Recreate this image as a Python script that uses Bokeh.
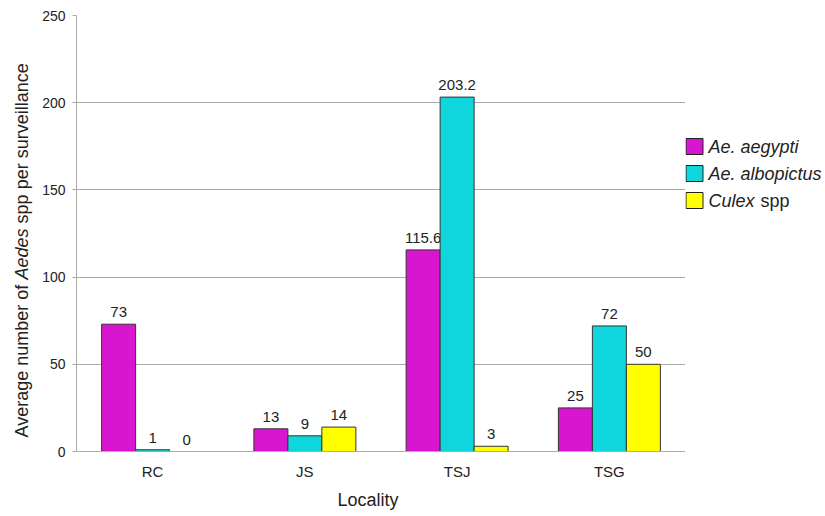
import math
from bokeh.plotting import figure
from bokeh.models import ColumnDataSource, FactorRange, Range1d, Title
from bokeh.transform import dodge
from bokeh.layouts import row
from bokeh.embed import file_html
from bokeh.resources import INLINE
from bokeh.core.properties import value

# ---- data ----
localities = ["RC", "JS", "TSJ", "TSG"]
aegypti = [73, 13, 115.6, 25]
albopictus = [1, 9, 203.2, 72]
culex = [0, 14, 3, 50]
y_ticks = [0, 50, 100, 150, 200, 250]
series_keys = ["aegypti", "albopictus", "culex"]
legend_italic = ["Ae. aegypti", "Ae. albopictus", "Culex"]
legend_plain = ["", "", "spp"]
colors = ["#D916CF", "#0FD6DC", "#FFFF00"]

FONT = "Liberation Sans"
TXT = "#222222"
H = 516
TOP = 15        # frame top (page px)
BOT = 451       # frame bottom (page px)
FH = BOT - TOP  # frame height


def fmt(v):
    return f"{v:g}"


def side_panel(w):
    f = figure(width=w, height=H, x_range=Range1d(0, w), y_range=Range1d(0, FH),
               output_backend="svg", toolbar_location=None,
               min_border_left=0, min_border_right=0,
               min_border_top=TOP, min_border_bottom=H - BOT,
               x_axis_location=None, y_axis_location=None)
    f.outline_line_color = None
    f.xgrid.grid_line_color = None
    f.ygrid.grid_line_color = None
    return f


src = ColumnDataSource(dict(
    loc=localities,
    aegypti=aegypti, albopictus=albopictus, culex=culex,
    aegypti_l=[fmt(v) for v in aegypti],
    albopictus_l=[fmt(v) for v in albopictus],
    culex_l=[fmt(v) for v in culex],
))

# ---- left panel: y-axis title with italic "Aedes" ----
yt = side_panel(36)
fs = 18
w1 = 8.782 * fs          # "Average number of "
w2 = 2.835 * fs          # "Aedes"
sp = 0.278 * fs          # space
y_start = BOT - 437
tx = 21
yt.text(x=[tx, tx], y=[y_start, y_start + w1 + w2 + sp],
        text=["Average number of", "spp per surveillance"], angle=math.pi / 2,
        text_align="left", text_baseline="alphabetic", text_font=value(FONT),
        text_font_size="18px", text_color=TXT)
yt.text(x=[tx], y=[y_start + w1], text=["Aedes"], angle=math.pi / 2,
        text_align="left", text_baseline="alphabetic", text_font=value(FONT),
        text_font_size="18px", text_font_style="italic", text_color=TXT)

# ---- main chart ----
p = figure(width=649, height=H, x_range=FactorRange(*localities),
           y_range=Range1d(0, 250), output_backend="svg", toolbar_location=None,
           min_border_left=40, min_border_right=0, min_border_top=TOP,
           min_border_bottom=H - BOT)
p.outline_line_color = None

bw = 0.2233
offsets = [-bw, 0.0, bw]
for key, off, col in zip(series_keys, offsets, colors):
    p.vbar(x=dodge("loc", off, range=p.x_range), top=key, width=bw, bottom=0,
           source=src, fill_color=col, line_color="#333333", line_width=1)
    p.text(x=dodge("loc", off, range=p.x_range), y=key, text=key + "_l",
           source=src, text_align="center", text_baseline="alphabetic",
           y_offset=-12, text_font=value(FONT), text_font_size="15px",
           text_color=TXT)

p.xgrid.grid_line_color = None
p.ygrid.grid_line_color = "#ABABAB"
p.ygrid.grid_line_width = 1
p.yaxis.ticker = y_ticks
p.ygrid.ticker = y_ticks
p.yaxis.major_tick_in = 0
p.yaxis.major_tick_out = 4
p.yaxis.minor_tick_line_color = None
p.yaxis.major_tick_line_color = "#ABABAB"
p.yaxis.axis_line_color = "#ABABAB"
p.yaxis.major_label_standoff = 7
p.yaxis.major_label_text_font = FONT
p.yaxis.major_label_text_font_size = "14px"
p.yaxis.major_label_text_color = TXT

p.xaxis.major_tick_in = 0
p.xaxis.major_tick_out = 0
p.xaxis.axis_line_color = "#ABABAB"
p.xaxis.major_label_standoff = 11
p.xaxis.major_label_text_font = FONT
p.xaxis.major_label_text_font_size = "15px"
p.xaxis.major_label_text_color = TXT

p.add_layout(Title(text="Locality", align="left", offset=261, standoff=11,
                   text_font=FONT, text_font_size="18px",
                   text_font_style="normal", text_color=TXT), "below")

# ---- legend panel ----
leg = side_panel(140)
row_y = [BOT - (146 + 27 * i) for i in range(3)]
leg.quad(left=[0.5] * 3, right=[17.5] * 3,
         top=[y + 8 for y in row_y], bottom=[y - 8 for y in row_y],
         fill_color=colors, line_color="#222222", line_width=1)
leg.text(x=[23] * 3, y=row_y, text=legend_italic, text_baseline="middle",
         text_font=value(FONT), text_font_size="18px",
         text_font_style="italic", text_color=TXT)
leg.text(x=[75] * 3, y=row_y, text=legend_plain, text_baseline="middle",
         text_font=value(FONT), text_font_size="18px", text_color=TXT)

layout = row(yt, p, leg)
open("out.html", "w").write(file_html(layout, INLINE))
